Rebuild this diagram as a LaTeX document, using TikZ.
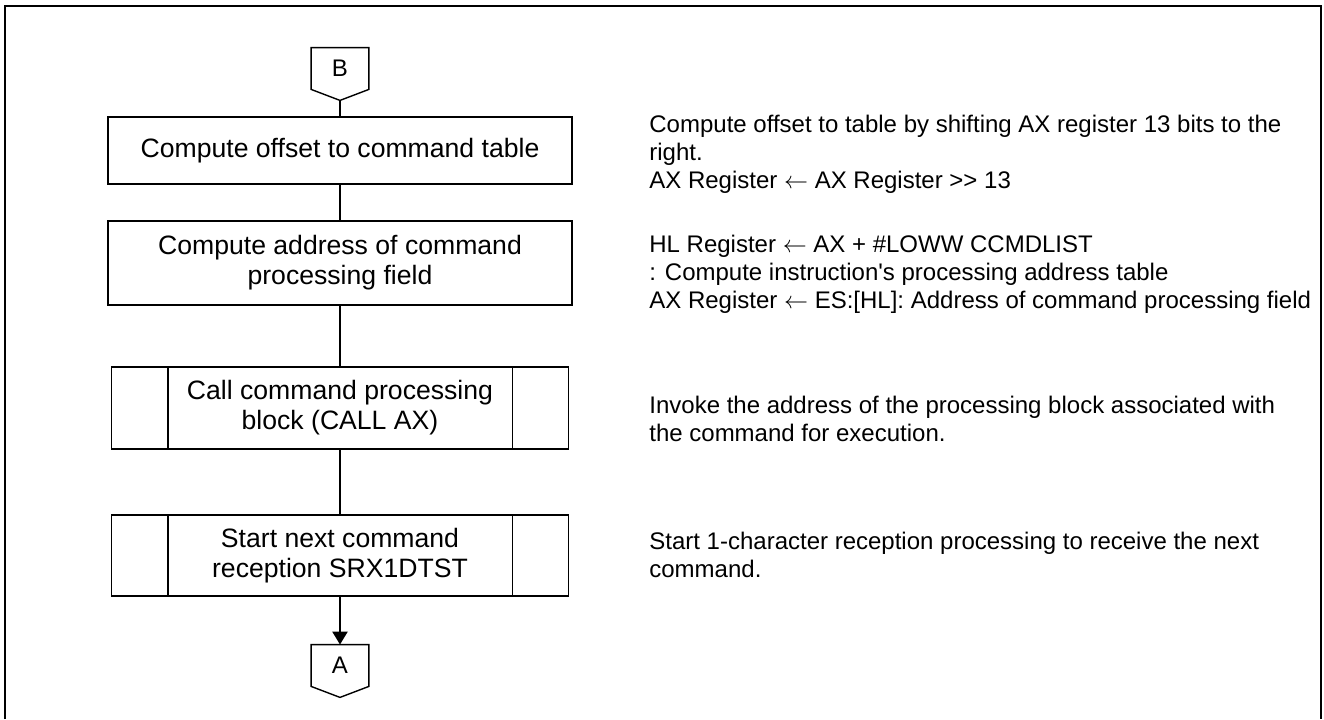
\documentclass[tikz,border=0pt]{standalone}
\usepackage{fontspec}
\setmainfont{Liberation Sans}
\usetikzlibrary{arrows.meta}
\tikzset{
  box/.style={draw,line width=0.7pt,minimum width=232pt,inner sep=0pt,align=center,font=\fontsize{13.3}{15}\selectfont},
  subbox/.style={box,minimum width=228.5pt},
  conn/.style={minimum width=28.5pt,minimum height=20.5pt,inner sep=0pt,font=\fontsize{12}{14}\selectfont},
  note/.style={anchor=base west,align=left,inner sep=0pt,font=\fontsize{12}{14}\selectfont},
  flow/.style={line width=1.1pt}
}
\begin{document}
\begin{tikzpicture}[x=0.5pt,y=-0.5pt]
\useasboundingbox (0,0) rectangle (1324,719);
\draw[line width=1.1pt] (5,719) |- (1321,6) -- (1321,719);

\node[conn] (B) at (340,68.5) {B};
\node[box,minimum height=33.5pt] (offset) at (340,150.5) {Compute offset to command table};
\node[box,minimum height=42pt] (addr) at (340,263) {Compute address of command\\processing field};
\node[subbox,minimum height=41pt] (call) at (340,408) {Call command processing\\block (CALL AX)};
\node[subbox,minimum height=40.5pt] (next) at (340,555.5) {Start next command\\reception SRX1DTST};
\node[conn] (A) at (340,665.5) {A};
\coordinate (Btip) at ([yshift=-5.5pt]B.south);
\coordinate (Atip) at ([yshift=-5.5pt]A.south);

% off-page connectors
\foreach \c in {B,A}{
\draw[line width=0.7pt] (\c.north west) -| (\c.south east) -- (\c tip) -- (\c.south west) -- cycle;
}
% predefined process bars
\foreach \n in {call,next}{
\draw[line width=0.7pt] ([xshift=28.5pt]\n.north west) -- ([xshift=28.5pt]\n.south west);
\draw[line width=0.7pt] ([xshift=-28.5pt]\n.north east) -- ([xshift=-28.5pt]\n.south east);
}

\draw[flow] (Btip) -- (offset);
\draw[flow] (offset) -- (addr);
\draw[flow] (addr) -- (call);
\draw[flow] (call) -- (next);
\draw[flow,-{Triangle[length=6.5pt,width=7.5pt]}] (next) -- (A);

\node[note] (n1) at (649,188) {Compute offset to table by shifting AX register 13 bits to the\\right.\\AX Register $\leftarrow$ AX Register >{}> 13};
\node[note] (n2) at (649,308) {HL Register $\leftarrow$ AX + \#LOWW CCMDLIST\\: Compute instruction\textquotesingle s processing address table\\AX Register $\leftarrow$ ES:[HL]: Address of command processing field};
\node[note] (n3) at (649,441) {Invoke the address of the processing block associated with\\the command for execution.};
\node[note] (n4) at (649,577) {Start 1-character reception processing to receive the next\\command.};
\end{tikzpicture}
\end{document}
